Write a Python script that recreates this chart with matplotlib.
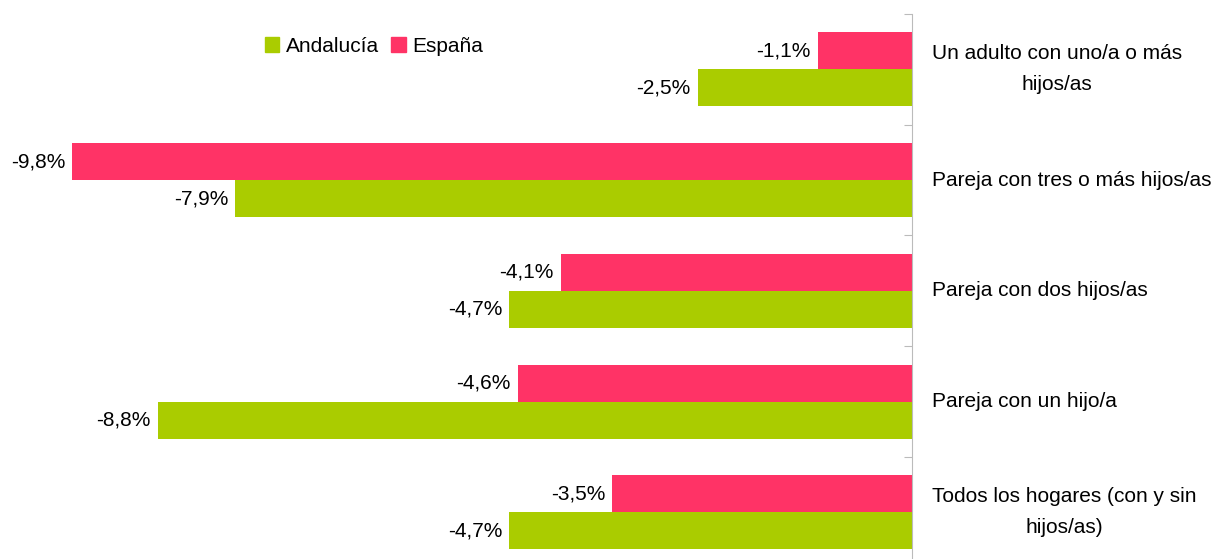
import numpy as np
import matplotlib
matplotlib.use("Agg")
import matplotlib.pyplot as plt
from matplotlib.patches import Patch
from matplotlib.transforms import blended_transform_factory

plt.rcParams['font.family'] = ['Liberation Sans', 'DejaVu Sans']

# data
categories = ["Un adulto con uno/a o más\nhijos/as",
              "Pareja con tres o más hijos/as",
              "Pareja con dos hijos/as",
              "Pareja con un hijo/a",
              "Todos los hogares (con y sin\nhijos/as)"]
espana = [-1.1, -9.8, -4.1, -4.6, -3.5]
andalucia = [-2.5, -7.9, -4.7, -8.8, -4.7]

col_esp = "#FF3366"
col_and = "#AACC00"
fs = 15

fig = plt.figure(figsize=(12.19, 5.59), dpi=100)
ax = fig.add_axes([0, 0, 912 / 1219, 545 / 559])

y = np.arange(len(categories))
h = 0.333
ax.barh(y - h / 2, espana, height=h, color=col_esp)
ax.barh(y + h / 2, andalucia, height=h, color=col_and)

# value labels
def fmt(v):
    return f"{v:.1f}%".replace(".", ",")

for yi, v in zip(y, espana):
    ax.annotate(fmt(v), (v, yi - h / 2), xytext=(-5, 0), textcoords="offset points",
                ha="right", va="center", fontsize=fs)
for yi, v in zip(y, andalucia):
    ax.annotate(fmt(v), (v, yi + h / 2), xytext=(-5, 0), textcoords="offset points",
                ha="right", va="center", fontsize=fs)

# axis styling
for s in ["top", "left", "bottom"]:
    ax.spines[s].set_visible(False)
ax.spines["right"].set_color("#BBBBBB")
ax.yaxis.tick_right()
ax.set_yticks(np.arange(-0.5, 4.5, 1))
ax.set_yticklabels([])
ax.tick_params(axis="y", direction="in", length=6, color="#BBBBBB")
ax.set_xticks([])
ax.set_xlim(-912 / 85.7, 0)
ax.set_ylim(-0.5 + 545 / 110.75, -0.5)

# category labels
trans = blended_transform_factory(fig.transFigure, ax.transData)
for yi, lab in zip(y, categories):
    ax.text(932 / 1219, yi, lab, transform=trans, ha="left", va="center",
            multialignment="center", fontsize=fs, linespacing=1.8)

# legend
handles = [Patch(color=col_and, label="Andalucía"), Patch(color=col_esp, label="España")]
fig.legend(handles=handles, loc="center", bbox_to_anchor=(374 / 1219, 1 - 46 / 559),
           ncol=2, frameon=False, fontsize=fs, handlelength=0.7, handleheight=0.7,
           handletextpad=0.3, columnspacing=0.6)

fig.savefig("out.png", dpi=100)
